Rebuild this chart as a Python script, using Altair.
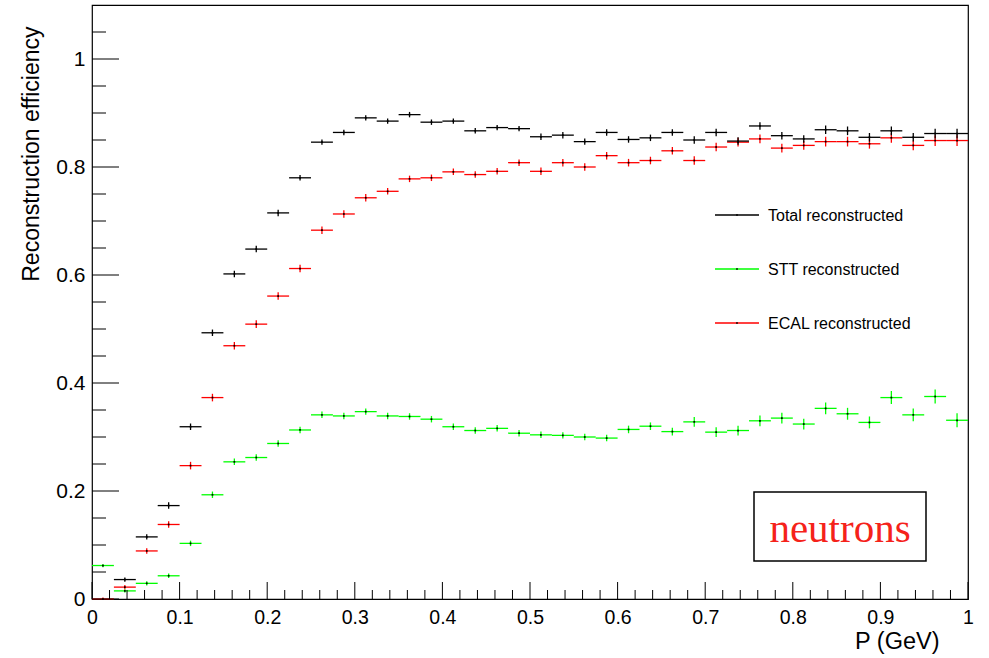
import altair as alt
import pandas as pd

# ---------------- data ----------------
n_bins = 40
bin_width = 0.025

total = [None, 0.036, 0.115, 0.173, 0.319, 0.493, 0.602, 0.648, 0.715, 0.780,
         0.846, 0.864, 0.891, 0.885, 0.897, 0.883, 0.885, 0.867, 0.873, 0.871,
         0.856, 0.859, 0.847, 0.864, 0.851, 0.854, 0.864, 0.850, 0.864, 0.848,
         0.876, 0.858, 0.852, 0.869, 0.867, 0.855, 0.867, 0.855, 0.862, 0.862]
total_err = [0.0, 0.004, 0.005, 0.006, 0.006, 0.006, 0.006, 0.006, 0.006, 0.005,
             0.005, 0.005, 0.005, 0.005, 0.005, 0.005, 0.005, 0.005, 0.005, 0.005,
             0.006, 0.006, 0.006, 0.006, 0.006, 0.006, 0.006, 0.007, 0.007, 0.007,
             0.007, 0.007, 0.007, 0.008, 0.008, 0.008, 0.008, 0.008, 0.009, 0.009]

stt = [0.062, 0.015, 0.029, 0.043, 0.103, 0.193, 0.254, 0.262, 0.288, 0.313,
       0.341, 0.339, 0.347, 0.339, 0.338, 0.333, 0.319, 0.312, 0.316, 0.307,
       0.304, 0.303, 0.300, 0.298, 0.314, 0.320, 0.310, 0.328, 0.309, 0.312,
       0.330, 0.335, 0.324, 0.353, 0.343, 0.327, 0.373, 0.341, 0.375, 0.331]
stt_err = [0.003, 0.003, 0.004, 0.004, 0.005, 0.006, 0.006, 0.006, 0.006, 0.006,
           0.006, 0.006, 0.006, 0.006, 0.006, 0.006, 0.006, 0.006, 0.006, 0.006,
           0.006, 0.006, 0.006, 0.006, 0.007, 0.007, 0.007, 0.009, 0.009, 0.009,
           0.010, 0.010, 0.010, 0.011, 0.011, 0.011, 0.012, 0.012, 0.013, 0.013]

ecal = [0.0, 0.022, 0.089, 0.138, 0.247, 0.373, 0.469, 0.509, 0.561, 0.612,
        0.683, 0.713, 0.743, 0.755, 0.778, 0.780, 0.791, 0.786, 0.792, 0.808,
        0.792, 0.808, 0.800, 0.821, 0.808, 0.812, 0.830, 0.812, 0.837, 0.846,
        0.852, 0.835, 0.840, 0.847, 0.847, 0.843, 0.854, 0.840, 0.849, 0.849]
ecal_err = [0.003, 0.004, 0.005, 0.006, 0.007, 0.007, 0.007, 0.007, 0.007, 0.007,
            0.007, 0.007, 0.007, 0.006, 0.006, 0.006, 0.006, 0.006, 0.006, 0.006,
            0.007, 0.007, 0.007, 0.007, 0.007, 0.007, 0.007, 0.008, 0.008, 0.008,
            0.008, 0.008, 0.008, 0.009, 0.009, 0.009, 0.009, 0.009, 0.010, 0.010]

series_names = ["STT reconstructed", "ECAL reconstructed", "Total reconstructed"]
series_colors = ["#00ff00", "#ff0000", "#000000"]
legend_order = ["Total reconstructed", "STT reconstructed", "ECAL reconstructed"]

x_major = [0, 0.1, 0.2, 0.3, 0.4, 0.5, 0.6, 0.7, 0.8, 0.9, 1.0]
x_minor = [round(0.02 * i, 2) for i in range(51) if i % 5 != 0]
y_major = [0, 0.2, 0.4, 0.6, 0.8, 1.0]
y_minor = [0.05, 0.1, 0.15, 0.25, 0.3, 0.35, 0.45, 0.5, 0.55, 0.65, 0.7, 0.75,
           0.85, 0.9, 0.95, 1.05]

# ---------------- build table ----------------
rows = []
for name, vals, errs in [("STT reconstructed", stt, stt_err),
                         ("ECAL reconstructed", ecal, ecal_err),
                         ("Total reconstructed", total, total_err)]:
    for i, (v, e) in enumerate(zip(vals, errs)):
        if v is None:
            continue
        lo = round(i * bin_width, 4)
        hi = round((i + 1) * bin_width, 4)
        rows.append({"series": name, "lo": lo, "hi": hi, "mid": (lo + hi) / 2,
                     "v": v, "vlo": max(v - e, 0), "vhi": v + e})
df = pd.DataFrame(rows)

W, H = 876, 594
FONT = "Liberation Sans"

xscale = alt.Scale(domain=[0, 1], nice=False, zero=False)
yscale = alt.Scale(domain=[0, 1.1], nice=False, zero=False)
color = alt.Color("series:N", scale=alt.Scale(domain=series_names, range=series_colors), legend=None)

xaxis = alt.Axis(values=x_major, format="~g", ticks=False, domain=False, grid=False,
                 labelFont=FONT, labelFontSize=19.5, labelColor="black", labelPadding=9,
                 labelFlush=False, labelOverlap=False,
                 title="P (GeV)", titleFont=FONT, titleFontSize=23.5, titleFontWeight="normal",
                 titleColor="black", titleAnchor="end", titleAlign="right",
                 titleX=847, titleY=49, titleBaseline="alphabetic")
yaxis = alt.Axis(values=y_major, format="~g", ticks=False, domain=False, grid=False,
                 labelFont=FONT, labelFontSize=21, labelColor="black", labelPadding=7,
                 labelFlush=False, labelOverlap=False,
                 title="Reconstruction efficiency", titleFont=FONT, titleFontSize=23,
                 titleFontWeight="normal", titleColor="black", titleAngle=-90,
                 titleAlign="right", titleAnchor="end", titleX=-54, titleY=21,
                 titleBaseline="alphabetic")

base = alt.Chart(df)
hbars = base.mark_rule(strokeWidth=1.3).encode(
    x=alt.X("lo:Q", scale=xscale, axis=xaxis), x2="hi:Q",
    y=alt.Y("v:Q", scale=yscale, axis=yaxis), color=color)
vbars = base.mark_rule(strokeWidth=1.3).encode(
    x=alt.X("mid:Q", scale=xscale), y=alt.Y("vlo:Q", scale=yscale), y2="vhi:Q", color=color)
dots = base.mark_square(size=3, color="black", opacity=1).encode(
    x=alt.X("mid:Q", scale=xscale), y=alt.Y("v:Q", scale=yscale))

# inward ticks (ROOT style)
def yticks(vals, length):
    return alt.Chart(pd.DataFrame({"t": vals})).mark_rule(color="black", strokeWidth=1).encode(
        y=alt.Y("t:Q", scale=yscale), x=alt.value(0), x2=alt.value(length))

def xticks(vals, length):
    return alt.Chart(pd.DataFrame({"t": vals})).mark_rule(color="black", strokeWidth=1).encode(
        x=alt.X("t:Q", scale=xscale), y=alt.value(H), y2=alt.value(H - length))

one = pd.DataFrame({"a": [0]})
legend_y = [210, 264, 318]
legend_layers = []
for name, ly in zip(legend_order, legend_y):
    col = series_colors[series_names.index(name)]
    legend_layers.append(alt.Chart(one).mark_rule(color=col, strokeWidth=1.3).encode(
        x=alt.value(623), x2=alt.value(667), y=alt.value(ly)))
    legend_layers.append(alt.Chart(one).mark_square(size=3, color="black", opacity=1).encode(
        x=alt.value(645), y=alt.value(ly)))
    legend_layers.append(alt.Chart(one).mark_text(
        text=name, align="left", baseline="middle", font=FONT, fontSize=16, color="black").encode(
        x=alt.value(676), y=alt.value(ly + 1)))

box = alt.Chart(one).mark_rect(fill="white", stroke="black", strokeWidth=1.5).encode(
    x=alt.value(662), x2=alt.value(834), y=alt.value(487), y2=alt.value(556))
box_text = alt.Chart(one).mark_text(
    text="neutrons", align="center", baseline="alphabetic", font="Liberation Serif",
    fontSize=41, color="#f5221a").encode(x=alt.value(748), y=alt.value(537))

chart = alt.layer(
    hbars, vbars, dots,
    yticks(y_major, 27), yticks(y_minor, 14), xticks(x_major, 17), xticks(x_minor, 9),
    *legend_layers, box, box_text
).properties(
    width=W, height=H, autosize="none",
    padding={"left": 92, "top": 5, "right": 21, "bottom": 59},
    background="white"
).configure_view(stroke="black", strokeWidth=1.2)

chart.save("out.html", embed_options={"renderer": "svg", "actions": False})
